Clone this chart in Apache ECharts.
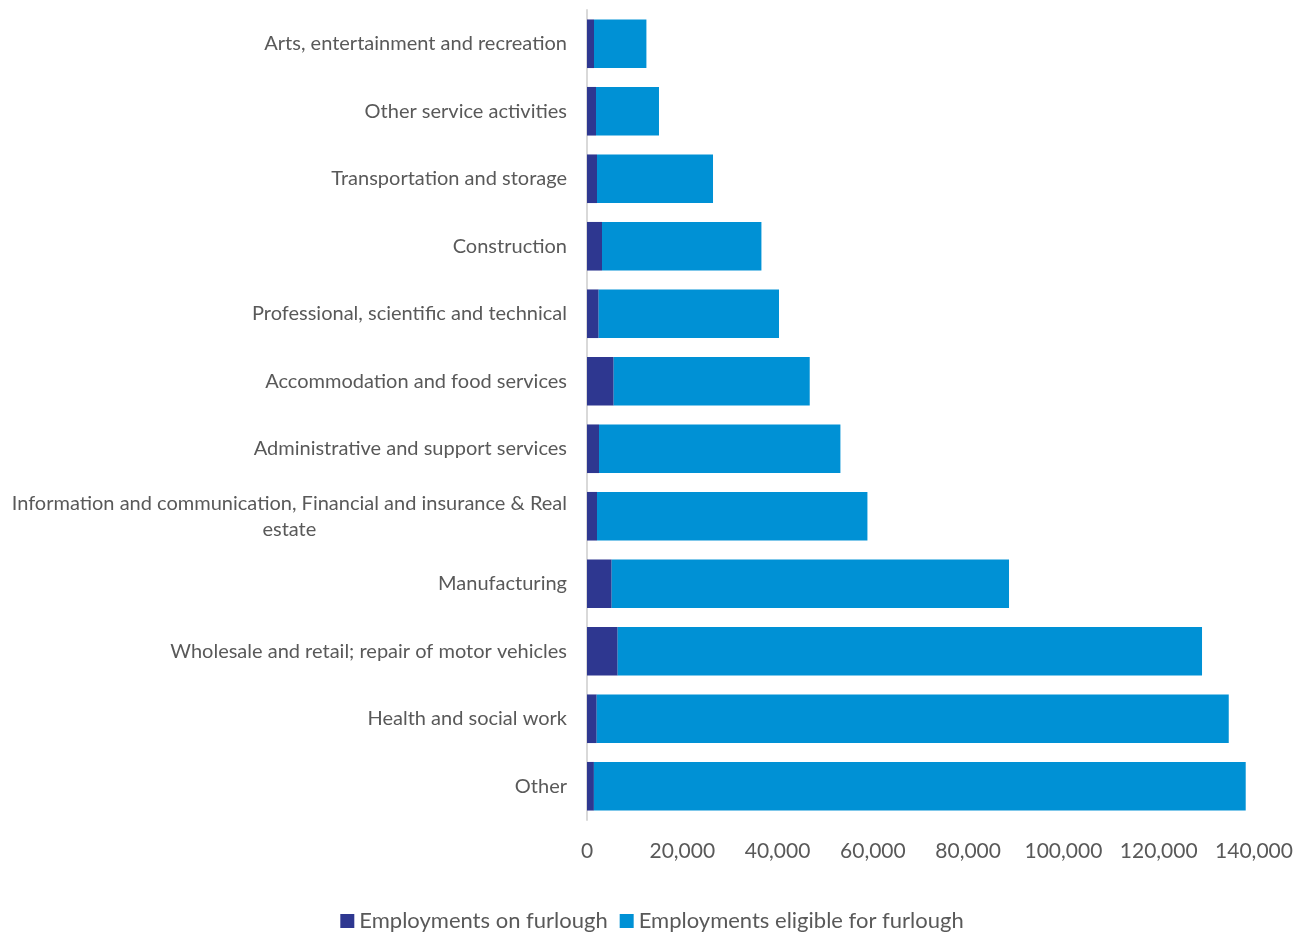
<!DOCTYPE html>
<html>
<head>
<meta charset="utf-8">
<script src="https://cdn.jsdelivr.net/npm/echarts@6/dist/echarts.min.js"></script>
<style>
html,body{margin:0;padding:0;background:#fff;}
#chart{width:1304px;height:936px;}
</style>
</head>
<body>
<div id="chart"></div>
<script>
const categories = [
  "Arts, entertainment and recreation",
  "Other service activities",
  "Transportation and storage",
  "Construction",
  "Professional, scientific and technical",
  "Accommodation and food services",
  "Administrative and support services",
  "Information and communication, Financial and insurance & Real estate",
  "Manufacturing",
  "Wholesale and retail; repair of motor vehicles",
  "Health and social work",
  "Other"
];
const seriesNames = ["Employments on furlough", "Employments eligible for furlough"];
const onFurlough = [1470, 1890, 2100, 3150, 2450, 5600, 2520, 2100, 5180, 6440, 2040, 1450];
const eligibleForFurlough = [11000, 13220, 24350, 33460, 37850, 41150, 50670, 56760, 83400, 122650, 132660, 136810];
const xTicks = { min: 0, max: 140000, interval: 20000 };

function wrap(text, limit) {
  const words = text.split(' ');
  const lines = [];
  let cur = '';
  words.forEach(w => {
    const t = cur ? cur + ' ' + w : w;
    if (t.length > limit && cur) { lines.push(cur); cur = w; } else { cur = t; }
  });
  if (cur) lines.push(cur);
  return lines;
}

const chart = echarts.init(document.getElementById('chart'));
chart.setOption({
  animation: false,
  textStyle: { fontFamily: 'Lato' },
  grid: { left: 587, right: 50, top: 10, bottom: 116 },
  legend: {
    top: 905,
    left: 'center',
    itemWidth: 14,
    itemHeight: 14,
    itemGap: 12,
    icon: 'rect',
    textStyle: { fontSize: 22, color: '#595959', fontFamily: 'Lato' },
    data: seriesNames
  },
  xAxis: {
    type: 'value',
    min: xTicks.min,
    max: xTicks.max,
    interval: xTicks.interval,
    axisLine: { show: false },
    axisTick: { show: false },
    splitLine: { show: false },
    axisLabel: {
      fontSize: 21,
      color: '#595959',
      margin: 21,
      fontFamily: 'Lato',
      formatter: v => v.toLocaleString('en-US')
    }
  },
  yAxis: {
    type: 'category',
    inverse: true,
    data: categories,
    axisLine: { show: true, lineStyle: { color: '#d9d9d9', width: 2 } },
    axisTick: { show: false },
    axisLabel: {
      fontSize: 20,
      color: '#595959',
      margin: 20,
      fontFamily: 'Lato',
      formatter: v => wrap(v, 62).map(l => '{c|' + l + '}').join('\n'),
      rich: { c: { align: 'center', fontSize: 20, color: '#595959', lineHeight: 26, fontFamily: 'Lato' } }
    }
  },
  series: [
    {
      name: seriesNames[0],
      type: 'bar',
      stack: 'total',
      barWidth: '72%',
      itemStyle: { color: '#2E3790' },
      data: onFurlough
    },
    {
      name: seriesNames[1],
      type: 'bar',
      stack: 'total',
      barWidth: '72%',
      itemStyle: { color: '#0091D5' },
      data: eligibleForFurlough
    }
  ]
});
</script>
</body>
</html>
